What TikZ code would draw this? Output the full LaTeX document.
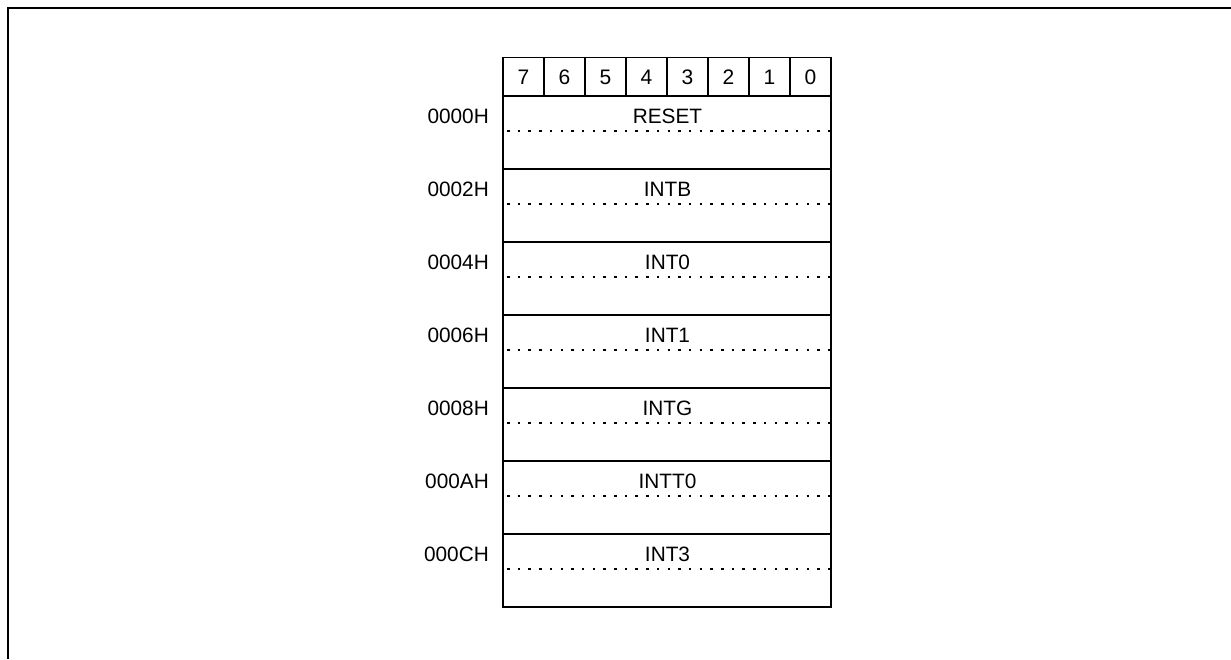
\documentclass[tikz,border=0pt]{standalone}
\usepackage{fontspec}
\setmainfont{Liberation Sans}
\begin{document}
\begin{tikzpicture}[x=1pt,y=-1pt,
  cellline/.style={draw=black,line width=1.3pt},
  halfline/.style={draw=black,line width=1.3pt,dash pattern=on 2.5pt off 8.2pt,dash phase=-4pt},
  bitlabel/.style={font=\fontsize{21}{25}\selectfont,inner sep=0pt},
  vec/.style={font=\fontsize{20.8}{24}\selectfont,inner sep=0pt},
  addr/.style={font=\fontsize{20.8}{24}\selectfont,inner sep=0pt,anchor=east}]
\useasboundingbox (0,0) rectangle (1231,659);
% outer frame (top and left edges)
\draw[line width=2.2pt] (8,659) -- (8,8) -- (1231,8);
% bit header
\foreach \b [count=\i from 0] in {7,6,5,4,3,2,1,0}{
  \draw[cellline] (503+41*\i,57.5) rectangle (544+41*\i,96);
  \node[bitlabel] (bit\b) at (523.5+41*\i,77) {\b};
}
% vector rows
\foreach \name/\ad [count=\i from 0] in {RESET/0000H,INTB/0002H,INT0/0004H,INT1/0006H,INTG/0008H,INTT0/000AH,INT3/000CH}{
  \draw[cellline] (503,96+73*\i) rectangle (831,169+73*\i);
  \draw[halfline] (503,131+73*\i) -- (831,131+73*\i);
  \node[vec] (vec\i) at (667.5,116.5+73*\i) {\name};
  \node[addr] (addr\i) at (489,116.5+73*\i) {\ad};
}
\end{tikzpicture}
\end{document}
